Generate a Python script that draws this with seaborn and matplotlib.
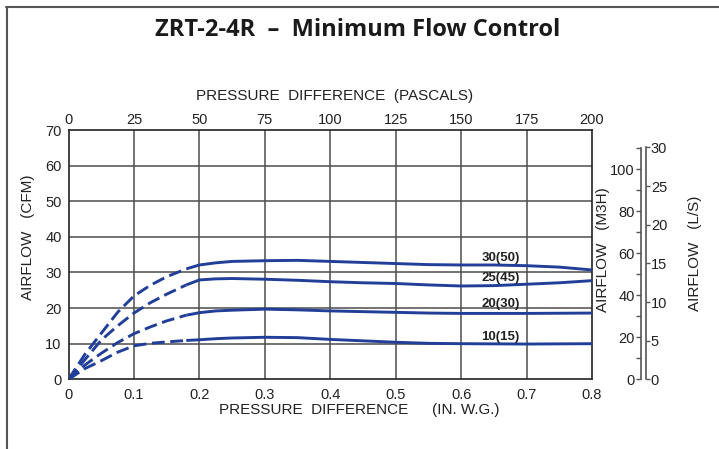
import matplotlib
matplotlib.use("Agg")
import matplotlib.pyplot as plt
from matplotlib.lines import Line2D
import seaborn as sns

# ---------------- data ----------------
# x: pressure difference (in. w.g.), y: airflow (CFM)
c30_dash_x = [0.0, 0.025, 0.05, 0.075, 0.1, 0.125, 0.15, 0.18]
c30_dash_y = [0.0, 7.0, 12.9, 18.8, 23.4, 26.4, 28.8, 31.0]
c30_sol_x = [0.18, 0.2, 0.225, 0.25, 0.3, 0.35, 0.4, 0.45, 0.5, 0.55, 0.6, 0.65, 0.7, 0.75, 0.8]
c30_sol_y = [31.0, 32.1, 32.7, 33.1, 33.3, 33.4, 33.1, 32.8, 32.5, 32.2, 32.1, 32.1, 31.9, 31.5, 30.7]

c25_dash_x = [0.0, 0.025, 0.05, 0.075, 0.1, 0.125, 0.15, 0.18]
c25_dash_y = [0.0, 5.5, 11.0, 15.0, 18.6, 21.5, 23.9, 26.5]
c25_sol_x = [0.18, 0.2, 0.225, 0.25, 0.3, 0.35, 0.4, 0.45, 0.5, 0.55, 0.6, 0.65, 0.7, 0.75, 0.8]
c25_sol_y = [26.5, 27.9, 28.2, 28.3, 28.1, 27.8, 27.4, 27.1, 26.9, 26.5, 26.2, 26.3, 26.7, 27.1, 27.7]

c20_dash_x = [0.0, 0.025, 0.05, 0.075, 0.1, 0.125, 0.15, 0.18]
c20_dash_y = [0.0, 4.0, 7.3, 10.3, 12.8, 14.7, 16.4, 18.0]
c20_sol_x = [0.18, 0.2, 0.225, 0.25, 0.3, 0.35, 0.4, 0.45, 0.5, 0.55, 0.6, 0.7, 0.8]
c20_sol_y = [18.0, 18.7, 19.2, 19.4, 19.7, 19.5, 19.2, 19.0, 18.8, 18.6, 18.5, 18.5, 18.6]

c10_dash_x = [0.0, 0.025, 0.05, 0.075, 0.1, 0.125, 0.15, 0.18]
c10_dash_y = [0.0, 3.0, 5.2, 7.6, 9.4, 10.1, 10.5, 10.9]
c10_sol_x = [0.18, 0.2, 0.225, 0.25, 0.3, 0.35, 0.4, 0.45, 0.5, 0.55, 0.6, 0.7, 0.8]
c10_sol_y = [10.9, 11.1, 11.4, 11.6, 11.8, 11.7, 11.2, 10.8, 10.4, 10.1, 10.0, 9.9, 10.0]

curve_labels = ["30(50)", "25(45)", "20(30)", "10(15)"]
curve_label_x = [0.66, 0.66, 0.66, 0.66]
curve_label_y = [34.1, 28.5, 21.2, 11.9]

x_ticks_in = [0, 0.1, 0.2, 0.3, 0.4, 0.5, 0.6, 0.7, 0.8]
x_tick_labels = ["0", "0.1", "0.2", "0.3", "0.4", "0.5", "0.6", "0.7", "0.8"]
x_ticks_pa = [0, 25, 50, 75, 100, 125, 150, 175, 200]
y_ticks_cfm = [0, 10, 20, 30, 40, 50, 60, 70]
m3h_major = [0, 20, 40, 60, 80, 100]
m3h_minor = [10, 30, 50, 70, 90, 110]
ls_ticks = [0, 5, 10, 15, 20, 25, 30]

# ---------------- style ----------------
sns.set_style("white")
plt.rcParams['font.family'] = ['Liberation Sans', 'DejaVu Sans']
W, H = 719, 449
fig = plt.figure(figsize=(W / 100, H / 100), dpi=100)

def fx(px):
    return px / W

def fy(py):
    return 1 - py / H

L, R, T, B = 68.5, 592, 130, 379.3
ax = fig.add_axes([fx(L), fy(B), fx(R - L), (B - T) / H])

BLUE = "#213f98"
GRID = "#4d4d4d"
TXT = "#222222"
TICK_FS = 10.5

ax.set_xlim(0, 0.8)
ax.set_ylim(0, 70)
ax.set_xticks(x_ticks_in)
ax.set_xticklabels(x_tick_labels)
ax.set_yticks(y_ticks_cfm)
for v in x_ticks_in[1:-1]:
    ax.axvline(v, color=GRID, lw=1.1, zorder=1)
for v in y_ticks_cfm[1:-1]:
    ax.axhline(v, color=GRID, lw=1.1, zorder=1)
ax.tick_params(axis="x", length=0, pad=6, labelsize=TICK_FS, colors=TXT)
ax.tick_params(axis="y", length=3, width=1, color=GRID, pad=2, labelsize=TICK_FS, labelcolor=TXT)
for s in ax.spines.values():
    s.set_color(TXT)
    s.set_linewidth(1.2)

dash = (0, (4.4, 1.9))
series = [
    (c30_dash_x, c30_dash_y, c30_sol_x, c30_sol_y),
    (c25_dash_x, c25_dash_y, c25_sol_x, c25_sol_y),
    (c20_dash_x, c20_dash_y, c20_sol_x, c20_sol_y),
    (c10_dash_x, c10_dash_y, c10_sol_x, c10_sol_y),
]
for dx, dy, sx, sy in series:
    sns.lineplot(x=dx, y=dy, ax=ax, color=BLUE, linewidth=2.1, linestyle=dash,
                 sort=False, estimator=None, zorder=3)
    sns.lineplot(x=sx, y=sy, ax=ax, color=BLUE, linewidth=2.1,
                 sort=False, estimator=None, zorder=3, solid_capstyle="butt")

for lab, lx, ly in zip(curve_labels, curve_label_x, curve_label_y):
    ax.text(lx, ly, lab, fontsize=9.5, fontweight="bold", ha="center", va="center",
            color=TXT, zorder=4)

# top Pascal axis
sec = ax.secondary_xaxis("top", functions=(lambda x: x * 250, lambda p: p / 250))
sec.set_xticks(x_ticks_pa)
sec.tick_params(length=0, pad=2, labelsize=TICK_FS, colors=TXT)
sec.spines["top"].set_visible(False)

# right axes: M3H and L/S
M3H_PER_CFM = 1.694
LS_PER_CFM = 0.4608
axm = fig.add_axes([fx(641), fy(B), fx(5), (B - T) / H])
axm.patch.set_visible(False)
axm.set_ylim(0, 70 * M3H_PER_CFM)
axm.set_xticks([])
for k in ["top", "bottom", "right"]:
    axm.spines[k].set_visible(False)
axm.spines["left"].set_color("#555555")
axm.spines["left"].set_linewidth(1.2)
axm.spines["left"].set_bounds(0, 110)
axm.set_yticks(m3h_major)
axm.set_yticks(m3h_minor, minor=True)
axm.tick_params(axis="y", which="major", length=3.5, width=1, color="#555555", pad=1,
                labelsize=TICK_FS, labelcolor=TXT)
axm.tick_params(axis="y", which="minor", length=3.5, width=1, color="#555555")

axl = axm.twinx()
axl.patch.set_visible(False)
axl.set_ylim(0, 70 * LS_PER_CFM)
for k in ["top", "bottom", "left"]:
    axl.spines[k].set_visible(False)
axl.spines["right"].set_color("#555555")
axl.spines["right"].set_linewidth(1.2)
axl.spines["right"].set_bounds(0, 30)
axl.set_yticks(ls_ticks)
axl.tick_params(axis="y", length=3, width=1, color="#555555", pad=0.5,
                labelsize=TICK_FS, labelcolor=TXT)

# texts
fig.text(fx(357.5), fy(30), "ZRT-2-4R  \u2013  Minimum Flow Control",
         ha="center", va="center", fontsize=17, fontweight="bold",
         family=["Open Sans", "DejaVu Sans"], color="#1a1a1a")
fig.text(fx(334.5), fy(96), "PRESSURE  DIFFERENCE  (PASCALS)", ha="center", va="center",
         fontsize=11, color=TXT)
fig.text(fx(219), fy(410), "PRESSURE  DIFFERENCE", ha="left", va="center",
         fontsize=11, color=TXT)
fig.text(fx(432), fy(410), "(IN. W.G.)", ha="left", va="center",
         fontsize=11, color=TXT)
fig.text(fx(28), fy(237.6), "AIRFLOW   (CFM)", ha="center", va="center", rotation=90,
         fontsize=11, color=TXT)
fig.text(fx(603), fy(249.7), "AIRFLOW   (M3H)", ha="center", va="center", rotation=90,
         fontsize=11, color=TXT)
fig.text(fx(695), fy(253), "AIRFLOW   (L/S)", ha="center", va="center", rotation=90,
         fontsize=11, color=TXT)

# page frame (top and left edges)
fig.add_artist(Line2D([fx(6), 1], [fy(7), fy(7)], color="#555555", lw=1.5))
fig.add_artist(Line2D([fx(7), fx(7)], [0, fy(7)], color="#555555", lw=1.5))

fig.savefig("out.png", dpi=100)
